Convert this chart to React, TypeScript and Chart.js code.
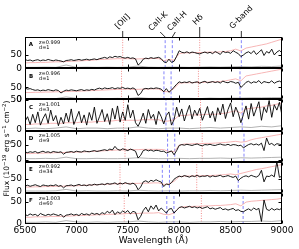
import React, { useEffect, useRef } from 'react';
import { Chart, registerables } from 'chart.js';

Chart.register(...registerables);

const FONT = "'DejaVu Sans', 'Liberation Sans', sans-serif";

// ---- panels ----
const PANELS = ['A', 'B', 'C', 'D', 'E', 'F'];
const REDSHIFTS = [0.999, 0.996, 1.001, 1.005, 0.992, 1.003];
const DISTANCES = [1, 1, 3, 9, 34, 60];
const Y_MIN = [0, 0, -1, -7, -4, -2];
const Y_MAX = [118, 128, 51, 97, 115, 72];
const Y_TICKS = [0, 50];
const X_TICKS = [6500, 7000, 7500, 8000, 8500, 9000];

// wavelength sampling of the series (Angstrom)
const SPEC_START = 6500;
const SPEC_STEP = 25;
const MODEL_START = 6500;
const MODEL_STEP = 50;
const NOISE_START = 6500;
const NOISE_STEP = 100;

// ---- observed spectra (black) ----
const FLUX_A = [33,29,31,27,30,32,28,31,29,33,30,28,31,29,27, 24,29,
  30,32,29,31,33,30,32,34,31,33,35,32,36, 38,41,37,43,40,45,42,44,
  40,38,41,37,39,35, 12,20, 34,38,36,40,37,39,41,36, 24,21, 34, 22,26, 45,
  66,60,58,62,57,61,59,56, 54, 58,61,57,60,55,63,58,52,64,59,61,56,66,60,55,
  44,50, 58,62,55,66,52,60,70,48,63,57,72,50,61,67,58];
const FLUX_B = [46,42,44,40, 37,39,35,38,36,40,37,35,39,36, 26,33,
  38,36,39,37,35,38,40,36,39,37,41,38, 43,46,42,47,44,45,48,43,47,45,49,44,46,43,47,41,
  16,24, 42,45,43,46,44,47,45,42, 31,44,29,38,50,62,
  72,68,71,69,73,67,70,72,66,71,74,68,70,73,69,72,67,75,70,68,73,71,66,70,
  49,58, 70,74,66,72,69,77,65,73,70,68,76,66,72,75,69];
const FLUX_C = [14,22,9,26,12,30,8,19,27,11,33,15,24,7,21, 10,28,13,35,9,20,
  31,12,25,8,29,16,38,11,22,34,14,27,9,36,18,40,13, 30,16,42,20,33,12, 6,15,
  28,11,34,19,26,9,31,22, 10,24,30,8,17, 38,22,35,15,29,41,18,33,24,
  36,16,27,39,20,31,14,37,25,43,19,34,45,22,38,28, 12,26,
  40,18,44,23,35,47,16,38,29,49,21,42,33,46,24];
const FLUX_D = [25,23,26,24,27,22,25,28,24,26,23,27,25,24,26, 18,24,
  25,27,24,28,26,25,29,27,26,28,30,27,29, 31,33,30,35,32,44,34,31,36,33,30,35,32,28,
  5,14, 30,33,29,32,28,31,30,27, 28,22,25,29,16,30,
  47,50,48,51,49,47,50,52,48,46,50,49,51,48,47,50,52,49,48,51,47,50,49,46,48,
  39,45, 50,53,49,52,48,55,30,72,50,54,47,53,51,49];
const FLUX_E = [22,25,21,24,27,23,20,26,24,22,25,23,27,21,24, 15,23,
  24,26,22,25,28,24,26,23,27,25,29,26,28, 30,27,32,29,31,34,28,33,30,35,31,29,33,27,
  8,18, 38,42,36,44,40,46,41,37, 20,30,27,35,48,55,
  60,57,62,59,56,61,58,63,57,60,59,62,56,61,58,60,63,57,59,62,58,55,60,
  43,52, 58,61,57,63,59,56,62,82,38,60,58,64,57,115,55,60];
const FLUX_F = [20,18,22,19,21,17,23,20,18,21,19,22,20,18,21, 14,19,
  20,22,19,21,18,23,20,22,19,24,21,23,20, 25,22,28,24,31,20,27,23,29,25,30,22,28,26,
  8,16, 30,38,27,41,33,43,29,36, 30,24,33,35,24,31,
  37,39,36,38,40,37,39,36,38,35,37,39,34,36,33,35,37,32,34,31,33,35,30,32,
  28,27, 31,34,30,36,32,35,4,55,33,30,35,31,34,32,36];

// ---- best-fit templates (pink) ----
const MODEL_A = [20,21,21,22,22,23,24,24,25,26,27, 28,29,30,32,33,34,35,36,36,
  36,35,35,36,36,37,36, 28,33,30, 55,58,58,59,59,60,61,60,62,63,66,72, 65,
  76,80,84,88,92,98,104,110];
const MODEL_B = [28,28,29,29,30,30,31,31,32,33,33, 34,35,36,37,38,39,40,41,41,
  42,41,41,42,42,43,42, 32,31,45, 66,68,68,69,69,70,71,72,73,76,80,84, 76,
  96,100,104,108,112,116,120,124];
const MODEL_C = [9,9,10,10,10,11,11,11,12,12,12, 13,13,13,14,14,15,15,16,16,
  16,16,16,17,17,17,17, 14,15,17, 24,24,25,25,25,26,26,26,27,28,30,32, 28,
  35,36,37,38,40,41,43,45];
const MODEL_D = [20,20,21,21,22,22,23,23,24,24,25, 25,26,27,28,29,30,31,32,32,
  33,33,33,34,34,34,34, 33,27,26, 48,52,52,53,53,54,54,55,56,57,59,61, 58,60,
  66,70,73,76,79,82,85];
const MODEL_E = [18,18,19,19,20,20,21,21,22,22,23, 24,25,26,27,28,29,30,31,31,
  32,32,32,33,33,34,34, 28,30,40, 58,60,60,61,61,62,62,63,64,66,68,65, 70,
  75,80,85,88,92,96,100,104];
const MODEL_F = [14,14,15,15,15,16,16,16,17,17,18, 18,19,19,20,20,21,21,22,22,
  23,23,23,24,24,24,25, 21,20,24, 37,39,39,40,40,41,41,42,42,43,44,46, 41,50,
  52,53,54,55,56,57,59];

// ---- noise spectra (grey) ----
const NOISE_A = [3,3,4,3,12,3,4,3,4,3,4,8,4,3,4,4,3,4,5,4,5,6,5,7,6,8];
const NOISE_B = [3,4,3,3,10,4,3,4,3,4,3,7,4,4,3,4,4,3,5,4,5,5,6,6,7,7];
const NOISE_C = [2,3,2,3,5,2,3,3,2,3,3,5,3,2,3,3,2,3,4,3,4,5,4,6,5,7];
const NOISE_D = [3,3,4,3,8,3,3,4,3,3,4,6,4,3,3,4,3,4,4,5,4,6,5,6,7,8];
const NOISE_E = [3,3,3,4,9,3,4,3,3,4,3,6,4,3,4,3,4,4,5,4,5,6,5,6,7,8];
const NOISE_F = [2,2,3,2,6,3,2,3,2,3,3,5,3,2,3,3,2,3,3,4,3,4,4,5,4,6];

const FLUX = [FLUX_A, FLUX_B, FLUX_C, FLUX_D, FLUX_E, FLUX_F];
const MODEL = [MODEL_A, MODEL_B, MODEL_C, MODEL_D, MODEL_E, MODEL_F];
const NOISE = [NOISE_A, NOISE_B, NOISE_C, NOISE_D, NOISE_E, NOISE_F];

// ---- spectral features (rest-frame Angstrom) ----
const LINE_NAMES = ['[OII]', 'CaII-K', 'CaII-H', 'H\u03b4', 'G-band'];
const LINE_REST = [3727.0, 3933.7, 3968.5, 4101.7, 4304.4];
const LINE_BLUE = [false, true, true, false, true];

const PINK_LINE = '#f28b8b';
const BLUE_LINE = 'rgba(110,110,250,0.85)';

function seriesPoints(values: number[], start: number, step: number) {
  return values.map((v, k) => ({ x: start + k * step, y: v }));
}

const panelClip = {
  id: 'panelClip',
  beforeDatasetDraw(chart: any, args: any) {
    const ys = chart.scales[args.meta.yAxisID];
    const a = chart.chartArea;
    const ctx = chart.ctx;
    ctx.save();
    ctx.beginPath();
    ctx.rect(a.left, ys.top, a.right - a.left, ys.bottom - ys.top);
    ctx.clip();
  },
  afterDatasetDraw(chart: any) {
    chart.ctx.restore();
  },
};

const frames = {
  id: 'frames',
  afterDatasetsDraw(chart: any) {
    const ctx = chart.ctx;
    const a = chart.chartArea;
    const xs = chart.scales.x;
    ctx.save();
    ctx.strokeStyle = '#000';
    ctx.lineWidth = 1;
    const L = Math.round(a.left) + 0.5;
    const R = Math.round(a.right) - 0.5;
    PANELS.forEach((p) => {
      const ys = chart.scales['y' + p];
      const T = Math.round(ys.top) + 0.5;
      const B = Math.round(ys.bottom) - 0.5;
      ctx.strokeRect(L, T, R - L, B - T);
      ctx.beginPath();
      X_TICKS.forEach((v) => {
        const px = Math.round(xs.getPixelForValue(v)) + 0.5;
        ctx.moveTo(px, T); ctx.lineTo(px, T + 3);
        ctx.moveTo(px, B); ctx.lineTo(px, B - 3);
      });
      Y_TICKS.forEach((v) => {
        const py = Math.round(ys.getPixelForValue(v)) + 0.5;
        ctx.moveTo(L, py); ctx.lineTo(L + 3, py);
        ctx.moveTo(R, py); ctx.lineTo(R - 3, py);
      });
      ctx.stroke();
    });
    ctx.restore();
  },
};

const texts = {
  id: 'texts',
  afterDraw(chart: any) {
    const ctx = chart.ctx;
    const a = chart.chartArea;
    const xs = chart.scales.x;
    ctx.save();
    ctx.fillStyle = '#000';
    // panel labels
    PANELS.forEach((p, i) => {
      const ys = chart.scales['y' + p];
      ctx.textBaseline = 'middle';
      ctx.textAlign = 'center';
      ctx.font = `bold 5.5px ${FONT}`;
      ctx.fillText(p, a.left + 6, ys.top + 8);
      ctx.textAlign = 'left';
      ctx.font = `5px ${FONT}`;
      ctx.fillText(`z=${REDSHIFTS[i].toFixed(3)}`, a.left + 14, ys.top + 5.5);
      ctx.fillText(`d=${DISTANCES[i]}`, a.left + 14, ys.top + 10.5);
    });

    // feature annotations above the top panel
    const top = a.top;
    const z0 = REDSHIFTS[0];
    const fs = 8;
    ctx.font = `${fs}px ${FONT}`;
    ctx.strokeStyle = '#000';
    ctx.lineWidth = 0.8;
    const lab = (txt: string, cx: number, bottom: number) => {
      const w = ctx.measureText(txt).width;
      const half = (w + fs * 0.8) / (2 * Math.SQRT2);
      ctx.save();
      ctx.translate(cx, bottom - half);
      ctx.rotate(-Math.PI / 4);
      ctx.textAlign = 'center';
      ctx.textBaseline = 'middle';
      ctx.fillText(txt, 0, 0);
      ctx.restore();
    };
    const seg = (x1: number, y1: number, x2: number, y2: number) => {
      ctx.beginPath(); ctx.moveTo(x1, y1); ctx.lineTo(x2, y2); ctx.stroke();
    };
    const px = LINE_REST.map((r) => xs.getPixelForValue(r * (1 + z0)));
    // [OII]
    seg(px[0], top - 6, px[0], top);
    lab(LINE_NAMES[0], px[0], top - 7);
    // CaII-K
    seg(px[1] - 5, top - 5, px[1], top);
    lab(LINE_NAMES[1], px[1] - 7, top - 5);
    // CaII-H
    seg(px[2] + 3, top - 5, px[2], top);
    lab(LINE_NAMES[2], px[2] + 5, top - 5);
    // Hdelta
    seg(px[3], top - 10, px[3], top);
    lab(LINE_NAMES[3], px[3] - 1.5, top - 11);
    // G-band
    seg(px[4], top - 6, px[4], top);
    lab(LINE_NAMES[4], px[4], top - 7);

    // y-axis title with superscripts
    const parts: [string, boolean][] = [
      ['Flux (10', false], ['\u221219', true], [' erg s', false], ['\u22121', true],
      [' cm', false], ['\u22122', true], [')', false],
    ];
    const mainF = `7.5px ${FONT}`;
    const supF = `5.5px ${FONT}`;
    let total = 0;
    parts.forEach(([t, s]) => { ctx.font = s ? supF : mainF; total += ctx.measureText(t).width; });
    ctx.save();
    ctx.translate(7.5, (a.top + a.bottom) / 2 + 18);
    ctx.rotate(-Math.PI / 2);
    ctx.textAlign = 'left';
    ctx.textBaseline = 'middle';
    let xx = -total / 2;
    parts.forEach(([t, s]) => {
      ctx.font = s ? supF : mainF;
      ctx.fillText(t, xx, s ? -2.5 : 0);
      xx += ctx.measureText(t).width;
    });
    ctx.restore();
    ctx.restore();
  },
};

export default function App() {
  const ref = useRef<HTMLCanvasElement>(null);
  useEffect(() => {
    const canvas = ref.current;
    if (!canvas) return;
    Chart.defaults.font.family = FONT;

    const datasets: any[] = [];
    PANELS.forEach((p, i) => {
      const yAxisID = 'y' + p;
      const common = { yAxisID, pointRadius: 0, fill: false, tension: 0, borderJoinStyle: 'round' };
      datasets.push({ ...common, label: `spectrum ${p}`, data: seriesPoints(FLUX[i], SPEC_START, SPEC_STEP), borderColor: '#000', borderWidth: 0.9, order: 0 });
      datasets.push({ ...common, label: `template ${p}`, data: seriesPoints(MODEL[i], MODEL_START, MODEL_STEP), borderColor: '#f5a3a3', borderWidth: 0.8, order: 1 });
      datasets.push({ ...common, label: `noise ${p}`, data: seriesPoints(NOISE[i], NOISE_START, NOISE_STEP), borderColor: '#a0a0a0', borderWidth: 0.8, order: 2 });
      LINE_REST.forEach((rest, k) => {
        const lam = rest * (1 + REDSHIFTS[i]);
        datasets.push({
          ...common,
          label: `${LINE_NAMES[k]} ${p}`,
          data: [{ x: lam, y: Y_MIN[i] }, { x: lam, y: Y_MAX[i] }],
          borderColor: LINE_BLUE[k] ? BLUE_LINE : PINK_LINE,
          borderDash: LINE_BLUE[k] ? [3, 2] : [1, 1.5],
          borderWidth: 1,
          order: 3,
        });
      });
    });

    const scales: any = {
      x: {
        type: 'linear', position: 'bottom', min: 6500, max: 9000,
        afterBuildTicks: (s: any) => { s.ticks = X_TICKS.map((v) => ({ value: v })); },
        ticks: { color: '#000', font: { family: FONT, size: 9 }, padding: 1, maxRotation: 0, autoSkip: false, callback: (v: any) => String(v) },
        grid: { display: false, drawTicks: false },
        border: { display: false },
        title: { display: true, text: 'Wavelength (\u00c5)', color: '#000', font: { family: FONT, size: 9 }, padding: { top: 0, bottom: 3 } },
        afterFit: (s: any) => { s.height = 25; },
      },
    };
    PANELS.forEach((p, i) => {
      scales['y' + p] = {
        type: 'linear', position: 'left', stack: 'panels', stackWeight: 1, weight: PANELS.length - i,
        min: Y_MIN[i], max: Y_MAX[i],
        afterBuildTicks: (s: any) => { s.ticks = Y_TICKS.map((v) => ({ value: v })); },
        ticks: { color: '#000', font: { family: FONT, size: 9 }, padding: 3, autoSkip: false, callback: (v: any) => String(v) },
        grid: { display: false, drawTicks: false },
        border: { display: false },
        afterFit: (s: any) => { s.width = 25; },
      };
    });

    const chart = new Chart(canvas, {
      type: 'line',
      data: { datasets },
      options: {
        responsive: false,
        animation: false,
        devicePixelRatio: 1,
        layout: { padding: { left: 0, top: 37, right: 17, bottom: 0 } },
        plugins: { legend: { display: false }, tooltip: { enabled: false } },
        scales,
      },
      plugins: [panelClip, frames, texts],
    } as any);
    return () => chart.destroy();
  }, []);

  return (
    <div style={{ position: 'fixed', left: 0, top: 0, width: 299, height: 249, background: '#fff' }}>
      <canvas ref={ref} width={299} height={249} style={{ display: 'block', width: 299, height: 249 }} />
    </div>
  );
}
